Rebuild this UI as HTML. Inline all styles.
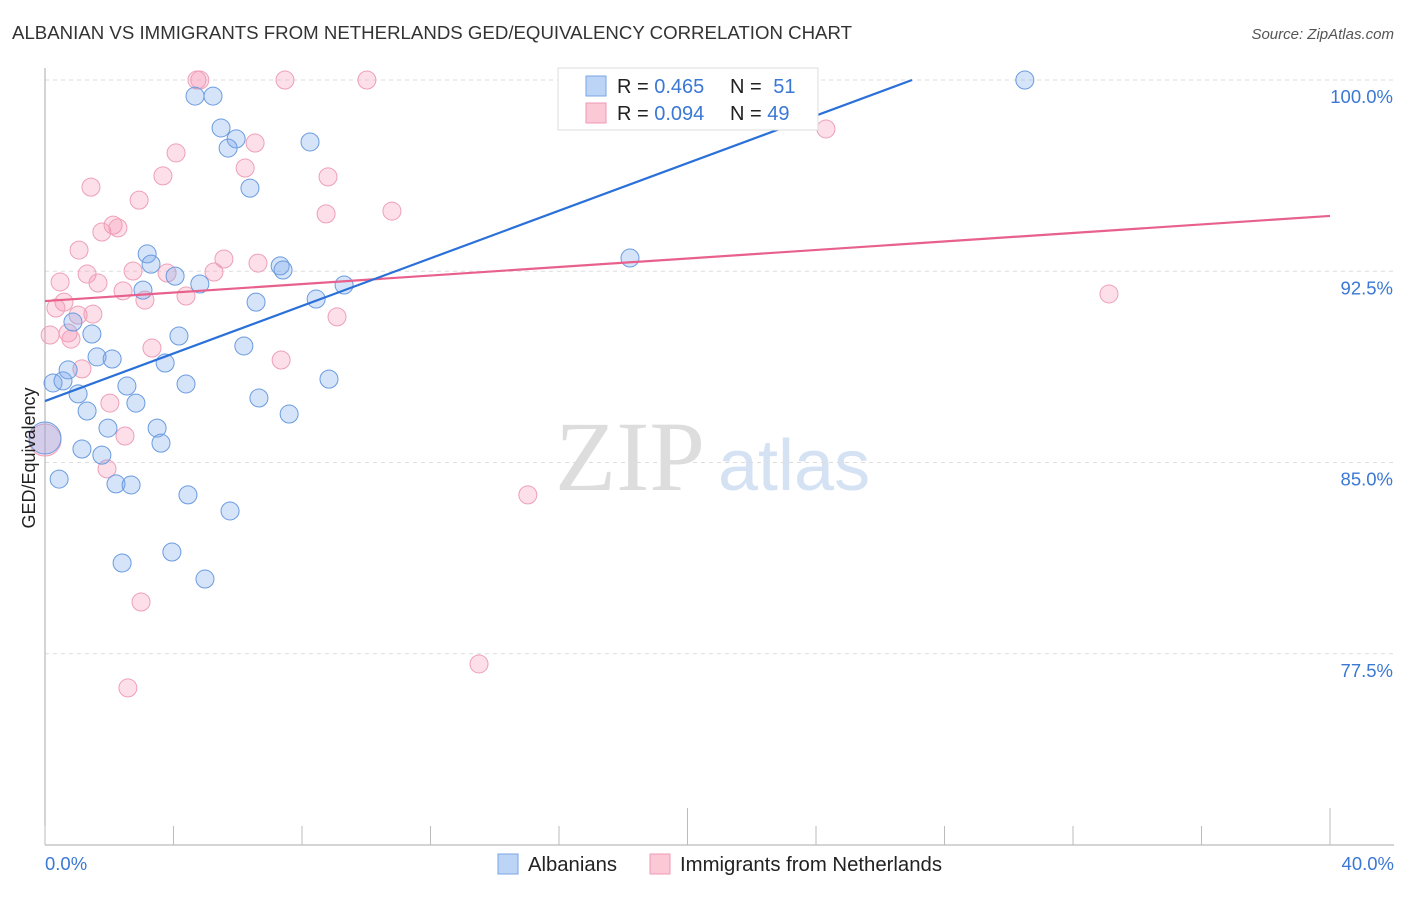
<!DOCTYPE html>
<html><head><meta charset="utf-8"><style>
body{margin:0;background:#fff;font-family:"Liberation Sans",sans-serif}
</style></head><body>
<svg id="chart" width="1406" height="892" viewBox="0 0 1406 892" xmlns="http://www.w3.org/2000/svg" font-family="Liberation Sans, sans-serif">
<text x="12" y="39" font-size="18.5" fill="#333" textLength="840" lengthAdjust="spacingAndGlyphs">ALBANIAN VS IMMIGRANTS FROM NETHERLANDS GED/EQUIVALENCY CORRELATION CHART</text>
<text x="1394" y="39" font-size="15" fill="#555" font-style="italic" text-anchor="end">Source: ZipAtlas.com</text>
<text x="555" y="490" font-size="100" fill="#ddd" font-family="Liberation Serif, serif">ZIP</text>
<text x="718" y="490" font-size="72" fill="#d4e2f4">atlas</text>
<g id="grid"></g>
<g id="axes"></g>
<g id="points"></g>
<g id="lines"></g>
<text transform="translate(35,458) rotate(-90)" font-size="18" fill="#222" text-anchor="middle">GED/Equivalency</text>
<g>
<rect x="558" y="68" width="260" height="62" fill="#fff" stroke="#ddd"/>
<rect x="586" y="76" width="20" height="20" fill="#bcd4f5" stroke="#7aa6e6"/>
<rect x="586" y="103" width="20" height="20" fill="#fbc8d6" stroke="#ee9ab4"/>
<text x="617" y="93" font-size="20" fill="#222">R = <tspan fill="#3a78d4">0.465</tspan></text>
<text x="730" y="93" font-size="20" fill="#222">N = <tspan fill="#3a78d4" dx="6">51</tspan></text>
<text x="617" y="120" font-size="20" fill="#222">R = <tspan fill="#3a78d4">0.094</tspan></text>
<text x="730" y="120" font-size="20" fill="#222">N = <tspan fill="#3a78d4">49</tspan></text>
</g>
<g>
<rect x="498" y="854" width="20" height="20" fill="#bcd4f5" stroke="#7aa6e6"/>
<text x="528" y="871" font-size="20" fill="#222" textLength="89" lengthAdjust="spacingAndGlyphs">Albanians</text>
<rect x="650" y="854" width="20" height="20" fill="#fbc8d6" stroke="#ee9ab4"/>
<text x="680" y="871" font-size="20" fill="#222" textLength="262" lengthAdjust="spacingAndGlyphs">Immigrants from Netherlands</text>
</g>
</svg>
<script>
const xTicks=[0,40];
const yTicks=[100,92.5,85,77.5];
const blueX=[30.5,4.67,5.23,5.48,5.95,5.70,8.25,6.38,3.18,3.30,4.05,4.82,7.32,7.41,3.05,6.57,8.44,9.31,18.21,0.87,1.46,4.17,6.19,1.62,2.09,3.74,0.25,0.56,0.72,1.03,2.55,4.39,8.84,1.31,2.83,6.66,7.60,1.96,3.49,3.61,1.15,1.77,0.0,0.44,2.21,2.68,4.45,5.76,3.95,2.40,4.98];
const blueY=[100,99.37,99.37,98.12,97.69,97.33,97.57,95.76,93.18,92.78,92.31,92.0,92.71,92.55,91.76,91.29,91.41,91.96,93.02,90.51,90.04,89.96,89.57,89.14,89.06,88.90,88.12,88.20,88.63,87.69,88.0,88.08,88.27,87.02,87.33,87.53,86.90,86.35,86.35,85.76,85.53,85.29,85.96,84.35,84.16,84.12,83.73,83.10,81.49,81.06,80.43];
const blueBig=[42];
const pinkX=[4.73,4.82,7.47,10.02,24.31,6.54,4.08,6.23,3.67,8.81,1.43,2.93,8.75,10.80,2.12,1.77,2.27,1.06,5.57,5.26,6.63,2.74,3.80,1.31,0.47,1.65,2.43,4.39,3.11,0.59,0.34,1.03,1.49,9.09,33.12,0.16,0.72,0.81,3.33,7.35,1.15,2.02,2.49,1.93,15.03,2.99,13.51,2.58,0.0];
const pinkY=[100,100,100,100,98.08,97.53,97.14,96.55,96.24,96.20,95.80,95.29,94.75,94.86,94.31,94.04,94.20,93.33,92.98,92.47,92.82,92.51,92.43,92.39,92.08,92.04,91.73,91.53,91.37,91.29,91.06,90.78,90.82,90.71,91.61,90.0,90.08,89.84,89.49,89.02,88.67,87.33,86.04,84.75,83.73,79.53,77.10,76.16,85.88];
const pinkBig=[48];
const blueTrend=[[0,87.41],[26.99,100]];
const pinkTrend=[[0,91.33],[40,94.67]];
const NS="http://www.w3.org/2000/svg";
const X0=45,X1=1330,Y100=80,PX=25.5;
const sx=v=>X0+v/40*(X1-X0);
const sy=v=>Y100+(100-v)*PX;
function mk(t,a,p){const e=document.createElementNS(NS,t);for(const k in a)e.setAttribute(k,a[k]);p.appendChild(e);return e;}
const grid=document.getElementById('grid'),axes=document.getElementById('axes');
yTicks.forEach(v=>{
 const l=mk('line',{x1:X0,x2:1394,y1:sy(v),y2:sy(v),stroke:'#ddd','stroke-dasharray':'4,4'},grid);
 
 
 const t=mk('text',{x:1393,y:sy(v)+23,'font-size':18.5,fill:'#3a78d4','text-anchor':'end'},grid);
 t.textContent=v.toFixed(1)+'%';
 
 
});
let a=mk('line',{x1:X0,x2:X0,y1:68,y2:845,stroke:'#aaa'},axes);


a=mk('line',{x1:X0,x2:1394,y1:845,y2:845,stroke:'#aaa'},axes);


for(let i=0;i<=10;i++){
 const x=X0+i*(X1-X0)/10;
 const t=mk('line',{x1:x,x2:x,y1:(i==5||i==10)?808:826,y2:845,stroke:'#bbb'},axes);
 
 
}
xTicks.forEach((v,i)=>{
 const t=mk('text',{x:i==0?45:1394,y:870,'font-size':18.5,fill:'#3a78d4','text-anchor':i==0?'start':'end'},axes);
 t.textContent=v.toFixed(1)+'%';
 
 
});
const pts=document.getElementById('points');
function series(xs,ys,big,fill,stroke,name){
 xs.forEach((v,i)=>{
  const c=mk('circle',{cx:sx(v),cy:sy(ys[i]),r:big.includes(i)?16:9,fill:fill,stroke:stroke,'stroke-width':1},pts);
  
  
 });
}
series(pinkX,pinkY,pinkBig,'rgba(244,150,178,0.3)','#eea0b8','netherlands-point');
series(blueX,blueY,blueBig,'rgba(120,165,235,0.3)','#6a9be0','albanian-point');
const lines=document.getElementById('lines');
let l=mk('line',{x1:sx(pinkTrend[0][0]),y1:sy(pinkTrend[0][1]),x2:sx(pinkTrend[1][0]),y2:sy(pinkTrend[1][1]),stroke:'#e8608c','stroke-width':2.2},lines);


l=mk('line',{x1:sx(blueTrend[0][0]),y1:sy(blueTrend[0][1]),x2:sx(blueTrend[1][0]),y2:sy(blueTrend[1][1]),stroke:'#2a70d8','stroke-width':2.2},lines);


</script>
</body></html>
